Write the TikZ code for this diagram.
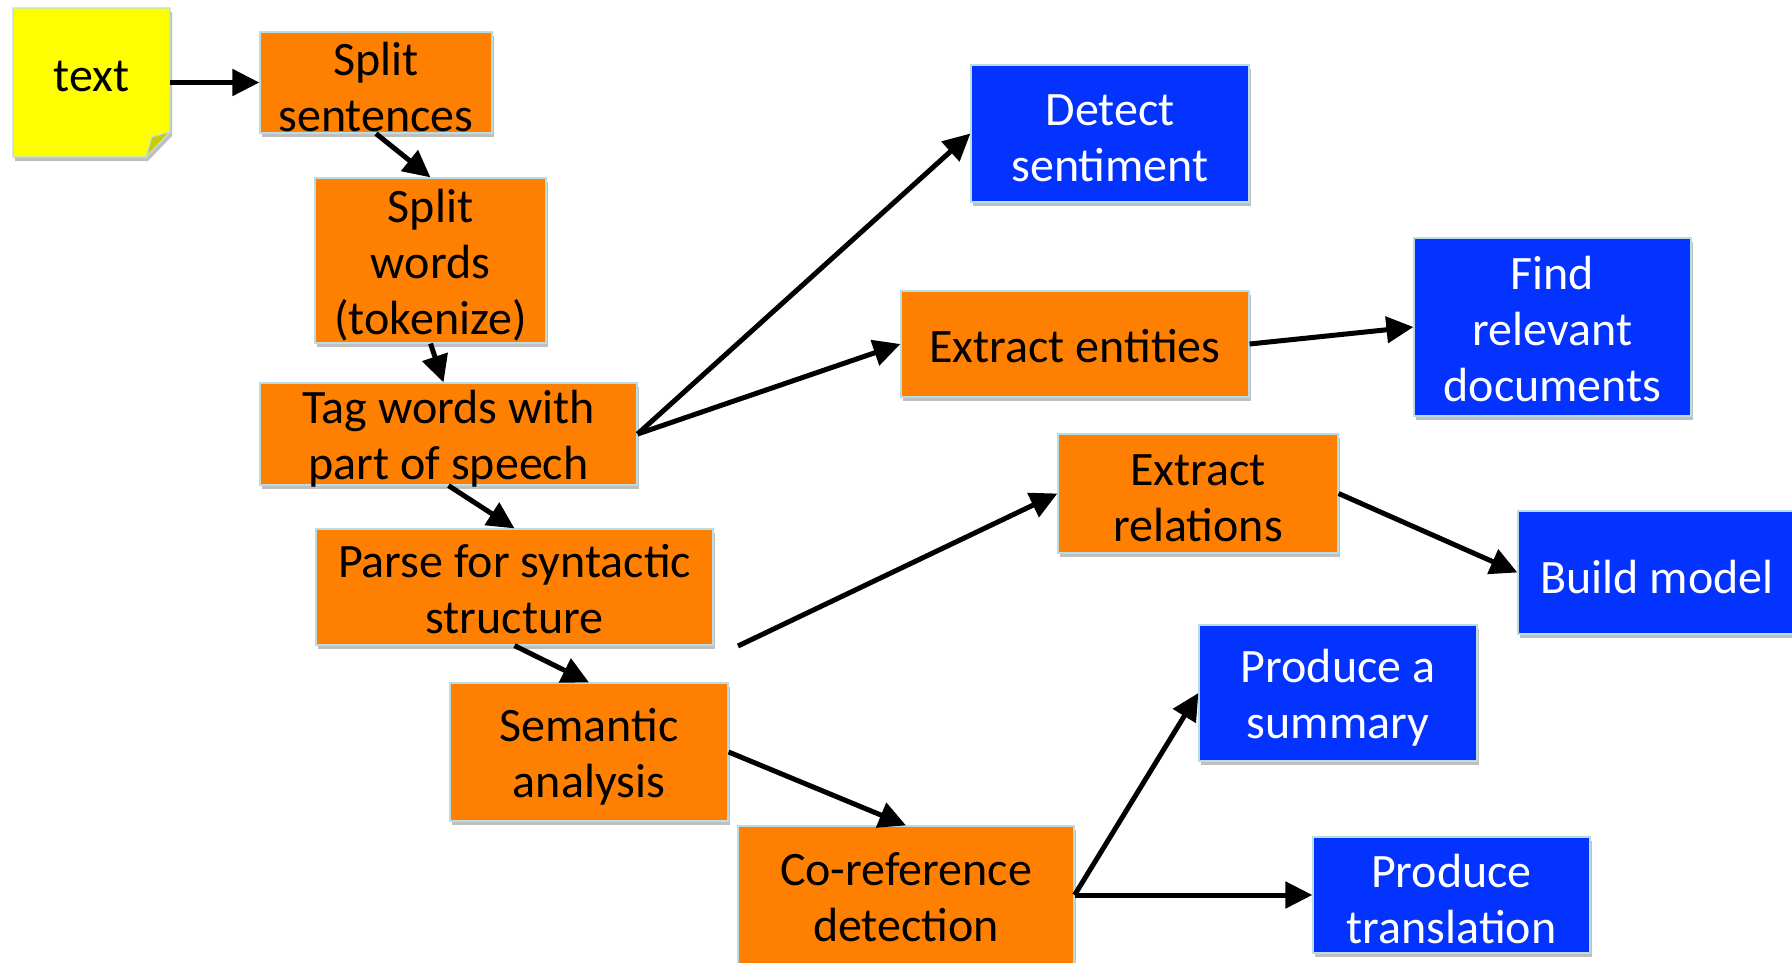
\documentclass[tikz,border=0pt]{standalone}
\usepackage{fontspec}
\setmainfont{Carlito}
\usetikzlibrary{arrows.meta,shadows}
\definecolor{orng}{HTML}{FF7F00}
\definecolor{blu}{HTML}{0433FF}
\definecolor{ylw}{HTML}{FFFF00}
\definecolor{foldc}{HTML}{CACA00}
\definecolor{edgec}{HTML}{B9DDE3}
\begin{document}
\begin{tikzpicture}[x=1pt,y=-1pt,
  shad/.style={drop shadow={shadow xshift=2pt, shadow yshift=-4pt, opacity=0.25, fill=black, draw=none}},
  box/.style={rectangle, draw=edgec, line width=1.2pt, inner sep=0pt, shad},
  lab/.style={font=\fontsize{48}{56}\selectfont, align=center, inner sep=0pt, yshift=-4.5pt},
  ob/.style={box, fill=orng},
  bb/.style={box, fill=blu},
  arr/.style={line width=5pt, -{Triangle[length=27pt,width=26pt]}}]
\useasboundingbox (0,0) rectangle (1792,962);
% sticky note
\filldraw[fill=ylw, draw=edgec, line width=1.2pt, shad] (13,8) -- (170,8) -- (170,132) -- (146,157) -- (13,157) -- cycle;
\filldraw[fill=foldc, draw=edgec, line width=1.2pt] (146,157) -- (152,137) -- (170,132) -- cycle;
\node (src) [minimum width=157pt, minimum height=149pt, inner sep=0pt,
  label={[lab,yshift=11pt]center:text}] at (91.5,82.5) {};
% orange boxes
\node (ss) [ob, minimum width=232pt, minimum height=101pt, label={[lab]center:Split\\sentences}] at (376,82.5) {};
\node (sw) [ob, minimum width=231pt, minimum height=165pt, label={[lab]center:Split\\words\\(tokenize)}] at (430.5,260.5) {};
\node (tag) [ob, minimum width=377pt, minimum height=102pt, label={[lab]center:Tag words with\\part of speech}] at (448.5,434) {};
\node (parse) [ob, minimum width=397pt, minimum height=116pt, label={[lab,yshift=2pt]center:Parse for syntactic\\structure}] at (514.5,587) {};
\node (sem) [ob, minimum width=278pt, minimum height=138pt, label={[lab]center:Semantic\\analysis}] at (589,752) {};
\node (coref) [ob, minimum width=336pt, minimum height=150pt, label={[lab,yshift=8pt]center:Co-reference\\detection}] at (906,901) {};
\node (extent) [ob, minimum width=348pt, minimum height=106pt, label={[lab,yshift=2pt]center:Extract entities}] at (1075,344) {};
\node (extrel) [ob, minimum width=280pt, minimum height=119pt, label={[lab]center:Extract\\relations}] at (1198,493.5) {};
% blue boxes
\node (detect) [bb, minimum width=278pt, minimum height=137pt, label={[lab,text=white]center:Detect\\sentiment}] at (1110,133.5) {};
\node (find) [bb, minimum width=277pt, minimum height=178pt, label={[lab,text=white,yshift=2pt]center:Find\\relevant\\documents}] at (1552.5,327) {};
\node (build) [bb, minimum width=278pt, minimum height=123pt, label={[lab,text=white]center:Build model}] at (1657,572.5) {};
\node (summ) [bb, minimum width=278pt, minimum height=136pt, label={[lab,text=white]center:Produce a\\summary}] at (1338,693) {};
\node (trans) [bb, minimum width=277pt, minimum height=116pt, label={[lab,text=white,yshift=1pt]center:Produce\\translation}] at (1451.5,895) {};
\coordinate (pe) at (738,646);
% connectors
\draw[arr] (src.east) -- (ss.west);
\draw[arr] (ss.south) -- (sw.north);
\draw[arr] (sw.south) -- ([xshift=-5pt]tag.north);
\draw[arr] (tag.south) -- (parse.north);
\draw[arr] (parse.south) -- (sem.north);
\draw[arr] (sem.east) -- (coref.north);
\draw[arr] (tag.east) -- (detect.west);
\draw[arr] (tag.east) -- (extent.west);
\draw[arr] (extent.east) -- (find.west);
\draw[arr] (pe) -- (extrel.west);
\draw[arr] (extrel.east) -- (build.west);
\draw[arr] ([yshift=6pt]coref.east) -- (summ.west);
\draw[arr] ([yshift=6pt]coref.east) -- (trans.west);
\end{tikzpicture}
\end{document}
